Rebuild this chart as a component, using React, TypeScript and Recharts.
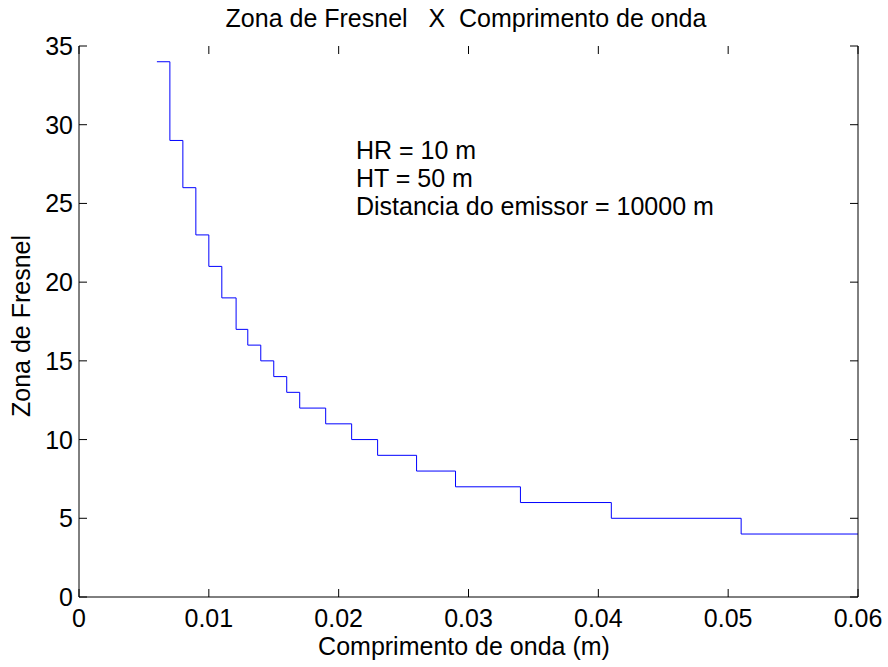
import React from 'react';
import { LineChart, Line, XAxis, YAxis, ReferenceLine, Customized } from 'recharts';

// stairs(lambda, zona)
const wavelength = [
  0.006, 0.007, 0.008, 0.009, 0.01, 0.011, 0.0121, 0.013, 0.014, 0.015, 0.016,
  0.017, 0.019, 0.021, 0.023, 0.026, 0.029, 0.034, 0.041, 0.051, 0.06,
];
const fresnelZone = [34, 29, 26, 23, 21, 19, 17, 16, 15, 14, 13, 12, 11, 10, 9, 8, 7, 6, 5, 4, 4];

const xTicks = [0, 0.01, 0.02, 0.03, 0.04, 0.05, 0.06];
const xTickLabels = ['0', '0.01', '0.02', '0.03', '0.04', '0.05', '0.06'];
const yTicks = [0, 5, 10, 15, 20, 25, 30, 35];

const notes = ['HR = 10 m', 'HT = 50 m', 'Distancia do emissor = 10000 m'];

const data = wavelength.map((w, i) => ({ w, zona: fresnelZone[i] }));

const X_MAX = 0.06;
const Y_MAX = 35;
// inward tick length, about 1% of the axes like matlab does
const TX = (Y_MAX * 8) / 551;
const TY = (X_MAX * 8) / 779;

const FONT = '"Liberation Sans", Arial, Helvetica, sans-serif';
const FS = 25;

const BottomTick = (props: any) => {
  const { x, y, payload } = props;
  const i = xTicks.indexOf(payload.value);
  return (
    <text x={x} y={y + 30} textAnchor="middle" fontSize={FS} fontFamily={FONT} fill="#000">
      {i >= 0 ? xTickLabels[i] : payload.value}
    </text>
  );
};

const LeftTick = (props: any) => {
  const { x, y, payload } = props;
  return (
    <text x={x - 6} y={y + 9} textAnchor="end" fontSize={FS} fontFamily={FONT} fill="#000">
      {payload.value}
    </text>
  );
};

const NoLabel = () => <g />;

const Texts = () => (
  <g fontFamily={FONT} fontSize={FS} fill="#000">
    <text x={466} y={27} textAnchor="middle" style={{ whiteSpace: 'pre' }}>
      {'Zona de Fresnel   X  Comprimento de onda'}
    </text>
    <text x={464} y={655} textAnchor="middle">Comprimento de onda (m)</text>
    <text x={0} y={0} textAnchor="middle" transform="translate(30 326) rotate(-90)">
      Zona de Fresnel
    </text>
    {notes.map((t, i) => (
      <text key={t} x={356} y={159 + i * 28}>{t}</text>
    ))}
  </g>
);

const axisStyle = { stroke: '#000', strokeWidth: 1 };

export default function App() {
  return (
    <div style={{ position: 'absolute', left: 0, top: 0, width: 888, height: 667, background: '#fff' }}>
      <LineChart width={888} height={667} data={data} margin={{ top: 46, right: 0, bottom: 0, left: 0 }}>
        <XAxis
          dataKey="w"
          type="number"
          domain={[0, X_MAX]}
          ticks={xTicks}
          interval={0}
          height={70}
          tickSize={0}
          tickMargin={0}
          tickLine={false}
          tick={<BottomTick />}
          axisLine={axisStyle}
        />
        <XAxis
          xAxisId="top"
          orientation="top"
          dataKey="w"
          type="number"
          domain={[0, X_MAX]}
          height={0}
          tickLine={false}
          tick={<NoLabel />}
          axisLine={axisStyle}
        />
        <YAxis
          type="number"
          domain={[0, Y_MAX]}
          ticks={yTicks}
          interval={0}
          width={79}
          tickSize={0}
          tickMargin={0}
          tickLine={false}
          tick={<LeftTick />}
          axisLine={axisStyle}
        />
        <YAxis
          yAxisId="right"
          orientation="right"
          type="number"
          domain={[0, Y_MAX]}
          width={30}
          tickLine={false}
          tick={<NoLabel />}
          axisLine={axisStyle}
        />
        {xTicks.map((t) => (
          <ReferenceLine key={'b' + t} segment={[{ x: t, y: 0 }, { x: t, y: TX }]} stroke="#000" />
        ))}
        {xTicks.map((t) => (
          <ReferenceLine key={'t' + t} segment={[{ x: t, y: Y_MAX }, { x: t, y: Y_MAX - TX }]} stroke="#000" />
        ))}
        {yTicks.map((t) => (
          <ReferenceLine key={'l' + t} segment={[{ x: 0, y: t }, { x: TY, y: t }]} stroke="#000" />
        ))}
        {yTicks.map((t) => (
          <ReferenceLine key={'r' + t} segment={[{ x: X_MAX, y: t }, { x: X_MAX - TY, y: t }]} stroke="#000" />
        ))}
        <Line
          type="stepAfter"
          dataKey="zona"
          stroke="#0000ff"
          strokeWidth={1}
          dot={false}
          activeDot={false}
          isAnimationActive={false}
        />
        <Customized component={Texts} />
      </LineChart>
    </div>
  );
}
